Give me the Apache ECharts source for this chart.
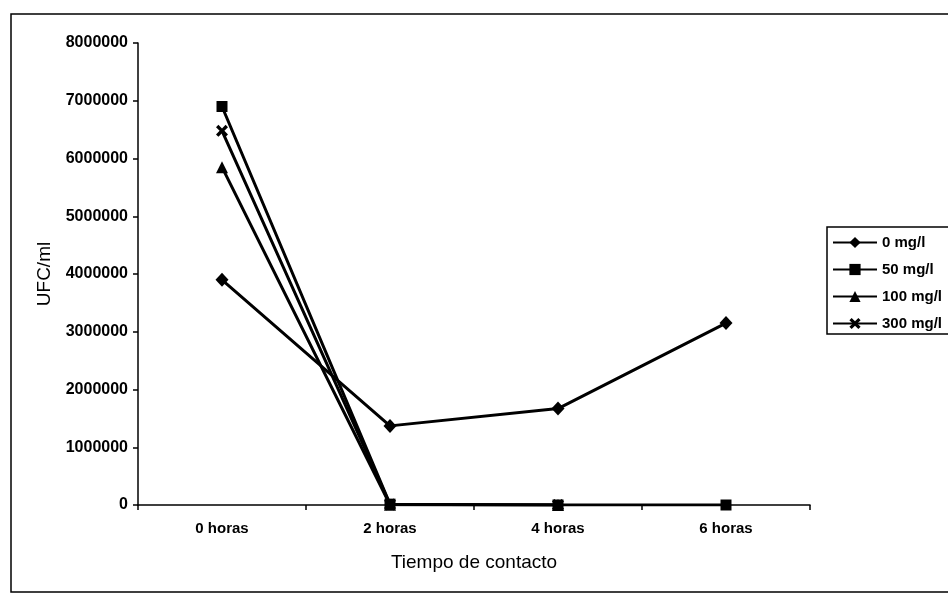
<!DOCTYPE html>
<html>
<head>
<meta charset="utf-8">
<script src="https://cdn.jsdelivr.net/npm/echarts@6/dist/echarts.min.js"></script>
<style>
  html, body { margin: 0; padding: 0; background: #fff; }
  #chart { width: 948px; height: 595px; }
</style>
</head>
<body>
<div id="chart"></div>
<script>
// Contact-time categories (x axis)
const categories = ['0 horas', '2 horas', '4 horas', '6 horas'];

// Colony counts (UFC/ml) per concentration
const serie0mg   = [3900000, 1370000, 1670000, 3150000];
const serie50mg  = [6900000, 15000, 0, 0];
const serie100mg = [5850000, 5000, 0, null];
const serie300mg = [6480000, 10000, 0, null];

const seriesNames = ['0 mg/l', '50 mg/l', '100 mg/l', '300 mg/l'];

// Y axis range
const yMin = 0;
const yMax = 8000000;
const yStep = 1000000;

const FONT = '"Liberation Sans", Arial, sans-serif';
const crossPath = 'path://M0,2 L2,0 L5,3 L8,0 L10,2 L7,5 L10,8 L8,10 L5,7 L2,10 L0,8 L3,5 Z';

function lineSeries(name, data, symbol, size, z) {
  return {
    name: name,
    type: 'line',
    data: data,
    symbol: symbol,
    symbolSize: size,
    showAllSymbol: true,
    connectNulls: false,
    z: z,
    lineStyle: { color: '#000', width: 3 },
    itemStyle: { color: '#000', borderColor: '#000', borderWidth: 0 },
    emphasis: { disabled: true },
    animation: false
  };
}

const chart = echarts.init(document.getElementById('chart'), null, { renderer: 'canvas' });

chart.setOption({
  backgroundColor: '#fff',
  animation: false,
  graphic: [{
    type: 'rect',
    shape: { x: 11, y: 14, width: 950, height: 578 },
    style: { fill: 'none', stroke: '#000', lineWidth: 1.5 },
    silent: true,
    z: -1
  }],
  grid: { left: 138, right: 138, top: 43, bottom: 90, containLabel: false },
  legend: {
    orient: 'vertical',
    left: 827,
    top: 227,
    padding: [8, 20, 3, 5],
    itemWidth: 44,
    itemHeight: 14,
    itemGap: 12,
    borderColor: '#000',
    borderWidth: 1.5,
    textStyle: { fontFamily: FONT, fontSize: 15, fontWeight: 'bold', color: '#000', lineHeight: 15 },
    data: seriesNames
  },
  xAxis: {
    type: 'category',
    data: categories,
    boundaryGap: true,
    name: 'Tiempo de contacto',
    nameLocation: 'middle',
    nameGap: 48,
    nameTextStyle: { fontFamily: FONT, fontSize: 19, color: '#000' },
    axisLine: { lineStyle: { color: '#000', width: 1.5 } },
    axisTick: { show: true, inside: false, length: 5, alignWithLabel: false, lineStyle: { color: '#000', width: 1.5 } },
    axisLabel: { fontFamily: FONT, fontSize: 15, fontWeight: 'bold', color: '#000', margin: 16 },
    splitLine: { show: false }
  },
  yAxis: {
    type: 'value',
    min: yMin,
    max: yMax,
    interval: yStep,
    name: 'UFC/ml',
    nameLocation: 'middle',
    nameRotate: 90,
    nameGap: 84,
    nameTextStyle: { fontFamily: FONT, fontSize: 19, color: '#000' },
    axisLine: { show: true, lineStyle: { color: '#000', width: 1.5 } },
    axisTick: { show: true, inside: false, length: 5, lineStyle: { color: '#000', width: 1.5 } },
    axisLabel: {
      fontFamily: FONT, fontSize: 16, fontWeight: 'bold', color: '#000', margin: 10,
      formatter: function (v) { return String(v); }
    },
    splitLine: { show: false }
  },
  series: [
    lineSeries(seriesNames[0], serie0mg, 'diamond', [13, 14], 2),
    lineSeries(seriesNames[1], serie50mg, 'rect', 11, 5),
    lineSeries(seriesNames[2], serie100mg, 'triangle', 12, 3),
    lineSeries(seriesNames[3], serie300mg, crossPath, 12, 4)
  ]
});
</script>
</body>
</html>
